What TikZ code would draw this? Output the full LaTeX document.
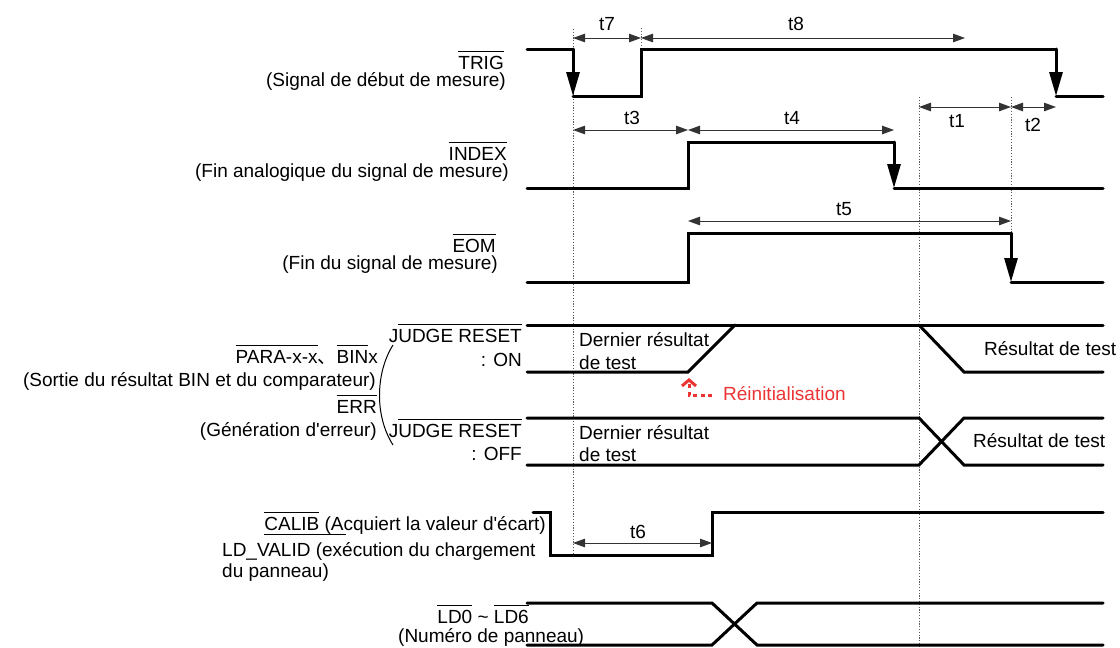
\documentclass[tikz,border=0pt]{standalone}
\usepackage{fontspec}
\setmainfont{Liberation Sans}[Ligatures=TeXOff]
\newfontfamily\cjkfont{Noto Sans CJK JP}
\usetikzlibrary{arrows.meta}
\definecolor{resetred}{RGB}{235,52,52}
\definecolor{guidegray}{RGB}{90,90,90}
\newsavebox\ovlbox
\newcommand\ovl[1]{\sbox\ovlbox{#1}\rlap{\raisebox{17.5pt}{\rule{\wd\ovlbox}{1pt}}}\usebox\ovlbox}
\begin{document}
\begin{tikzpicture}[x=1pt,y=-1pt,
  lbl/.style={font=\fontsize{19pt}{22pt}\selectfont, inner sep=0pt},
  sig/.style={line width=3pt, line cap=round, line join=miter},
  fall/.style={sig, -{Triangle[length=24pt,width=13pt]}},
  dim/.style={line width=1pt, draw=black!80, {Triangle[length=12pt,width=8.5pt]}-{Triangle[length=12pt,width=8.5pt]}},
  guide/.style={line width=0.8pt, draw=guidegray, dash pattern=on 1.2pt off 1.6pt},
  redarr/.style={line width=3pt, draw=resetred, dash pattern=on 4pt off 3.5pt, -{Straight Barb[length=6pt,width=14pt]}}]
\useasboundingbox (0,0) rectangle (1120,648);

% guide lines
\draw[guide] (573,29) -- (573,555);
\draw[guide] (641,28) -- (641,50);
\draw[guide] (919,97) -- (919,648);
\draw[guide] (1011,97) -- (1011,233);

% TRIG
\draw[sig] (527,49) -- (573,49);
\draw[fall] (573,49) -- (573,96);
\draw[sig] (573,96) -- (641,96) -- (641,49) -- (1056,49);
\draw[fall] (1056,49) -- (1056,96);
\draw[sig] (1056,96) -- (1103,96);

% INDEX
\draw[sig] (527,188) -- (688,188) -- (688,142) -- (894,142);
\draw[fall] (894,142) -- (894,188);
\draw[sig] (894,188) -- (1103,188);

% EOM
\draw[sig] (527,282) -- (688,282) -- (688,233) -- (1011,233);
\draw[fall] (1011,233) -- (1011,282);
\draw[sig] (1011,282) -- (1103,282);

% JUDGE RESET ON
\draw[sig] (527,325) -- (1103,325);
\draw[sig] (527,372) -- (688,372) -- (735,325);
\draw[sig] (919,325) -- (964,372) -- (1103,372);

% JUDGE RESET OFF
\draw[sig] (527,418) -- (919,418) -- (964,465) -- (1103,465);
\draw[sig] (527,465) -- (919,465) -- (964,418) -- (1103,418);

% CALIB / LD_VALID
\draw[sig] (533,512) -- (550,512) -- (550,555) -- (712,555) -- (712,512) -- (1103,512);

% LD0 ~ LD6
\draw[sig] (527,603) -- (712,603) -- (757,645) -- (1103,645);
\draw[sig] (527,645) -- (712,645) -- (757,603) -- (1103,603);

% dimension arrows
\draw[dim] (573,38) -- (641,38);
\draw[dim] (641,38) -- (965,38);
\draw[dim] (573,130) -- (688,130);
\draw[dim] (688,130) -- (894,130);
\draw[dim] (919,107) -- (1011,107);
\draw[dim] (1011,107) -- (1056,107);
\draw[dim] (688,221) -- (1011,221);
\draw[dim] (573,543) -- (712,543);

\node[lbl, anchor=base] (t7) at (607,30) {t7};
\node[lbl, anchor=base] (t8) at (796,30) {t8};
\node[lbl, anchor=base] (t3) at (632,124) {t3};
\node[lbl, anchor=base] (t4) at (792,124) {t4};
\node[lbl, anchor=base] (t1) at (957,127) {t1};
\node[lbl, anchor=base] (t2) at (1033,131) {t2};
\node[lbl, anchor=base] (t5) at (844,215) {t5};
\node[lbl, anchor=base] (t6) at (638,538) {t6};

% left labels
\node[lbl, anchor=base east] (trig) at (504,69) {\ovl{TRIG}};
\node[lbl, anchor=base east] (trigd) at (506,86) {(Signal de début de mesure)};
\node[lbl, anchor=base east] (index) at (507,160) {\ovl{INDEX}};
\node[lbl, anchor=base east] (indexd) at (509,177) {(Fin analogique du signal de mesure)};
\node[lbl, anchor=base east] (eom) at (496,252) {\ovl{EOM}};
\node[lbl, anchor=base east] (eomd) at (498,269) {(Fin du signal de mesure)};

\node[lbl, anchor=base east] (para) at (378,363) {\ovl{PARA-x-x}{\cjkfont 、}\ovl{BIN}x};
\node[lbl, anchor=base east] (parad) at (376,386) {(Sortie du résultat BIN et du comparateur)};
\node[lbl, anchor=base east] (err) at (377,413) {\ovl{ERR}};
\node[lbl, anchor=base east] (errd) at (377,436) {(Génération d'erreur)};
\draw[line width=1pt] (393,345) .. controls (376,372) and (374,415) .. (393,445);

\node[lbl, anchor=base east] (jon) at (522,342) {J\ovl{UDGE RESET}};
\node[lbl, anchor=base east] (jonb) at (522,366) {: ON};
\node[lbl, anchor=base east] (joff) at (522,437) {J\ovl{UDGE RESET}};
\node[lbl, anchor=base east] (joffb) at (522,460) {: OFF};

\node[lbl, anchor=base east] (calib) at (546,530) {\ovl{CALIB} (Acquiert la valeur d'écart)};
\draw[line width=1pt] ([yshift=-4pt]calib.base west) -- ++(82,0);
\node[lbl, anchor=base west] (ldv) at (222,556) {LD\_VALID (exécution du chargement};
\node[lbl, anchor=base west] (ldvb) at (222,577) {du panneau)};
\node[lbl, anchor=base east] (ld) at (529,623) {\ovl{LD0} \textasciitilde{} \ovl{LD6}};
\node[lbl, anchor=base west] (ldd) at (398,642) {(Numéro de panneau)};

% texts in the chart
\node[lbl, anchor=base west] (last1) at (579,346) {Dernier résultat};
\node[lbl, anchor=base west] (last1b) at (579,369) {de test};
\node[lbl, anchor=base west] (res1) at (984,355) {Résultat de test};
\node[lbl, anchor=base west] (last2) at (579,439) {Dernier résultat};
\node[lbl, anchor=base west] (last2b) at (579,461) {de test};
\node[lbl, anchor=base west] (res2) at (973,447) {Résultat de test};

% reset
\node[lbl, anchor=base west, text=resetred] (reset) at (723,400) {Réinitialisation};
\coordinate (rtip) at (689,378);
\coordinate (rcorner) at (689,395);
\draw[redarr] (rcorner -| reset.west) ++(-11,0) -- (rcorner) -- (rtip);
\end{tikzpicture}
\end{document}
